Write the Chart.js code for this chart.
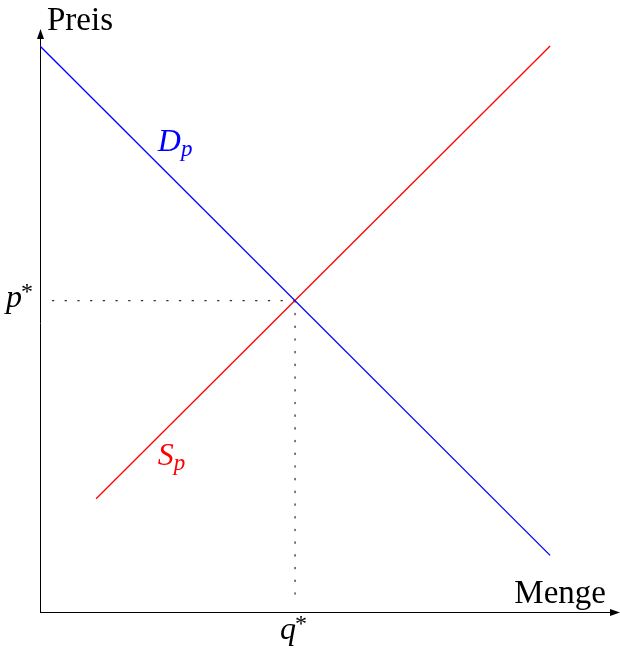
<!DOCTYPE html>
<html>
<head>
<meta charset="utf-8">
<script src="https://cdn.jsdelivr.net/npm/chart.js@4.4.0/dist/chart.umd.min.js"></script>
<style>
  html, body { margin: 0; padding: 0; background: #fff; }
  canvas { display: block; }
</style>
</head>
<body>
<canvas id="market" width="620" height="649"></canvas>
<script>
// Nachfrage- und Angebotskurve (Menge, Preis)
const demandQty = [0, 10]
const demandPrice = [10, 1]
const supplyQty = [1.1, 10]
const supplyPrice = [2, 10]

// Gleichgewicht
const qStar = 5
const pStar = 5.5

// Achsenbereich
const qMax = 11.37
const pMax = 10.3

const serif = '"Liberation Serif", "DejaVu Serif", serif'

const toPoints = (xs, ys) => xs.map((x, i) => ({ x, y: ys[i] }))

// Achsen mit Pfeilspitzen und Beschriftungen
const decorations = {
  id: 'decorations',
  beforeDatasetsDraw(chart) {
    const { ctx, scales: { x, y } } = chart
    const x0 = x.getPixelForValue(0)
    const y0 = y.getPixelForValue(0)
    const xEnd = x.getPixelForValue(qMax)
    const yEnd = y.getPixelForValue(pMax)
    ctx.save()
    ctx.strokeStyle = '#000'
    ctx.fillStyle = '#000'
    ctx.lineWidth = 1
    ctx.beginPath()
    ctx.moveTo(x0 + 0.5, y0)
    ctx.lineTo(x0 + 0.5, yEnd + 6)
    ctx.moveTo(x0, y0 + 0.5)
    ctx.lineTo(xEnd - 6, y0 + 0.5)
    ctx.stroke()
    // Pfeilspitzen
    ctx.beginPath()
    ctx.moveTo(x0 + 0.5, yEnd)
    ctx.lineTo(x0 - 3, yEnd + 10)
    ctx.lineTo(x0 + 4, yEnd + 10)
    ctx.closePath()
    ctx.fill()
    ctx.beginPath()
    ctx.moveTo(xEnd, y0 + 0.5)
    ctx.lineTo(xEnd - 10, y0 - 3)
    ctx.lineTo(xEnd - 10, y0 + 4)
    ctx.closePath()
    ctx.fill()
    ctx.restore()
  },
  afterDatasetsDraw(chart) {
    const { ctx, scales: { x, y } } = chart
    const x0 = x.getPixelForValue(0)
    const y0 = y.getPixelForValue(0)
    const xEnd = x.getPixelForValue(qMax)
    const yEnd = y.getPixelForValue(pMax)
    const qx = x.getPixelForValue(qStar)
    const py = y.getPixelForValue(pStar)
    ctx.save()
    ctx.textBaseline = 'alphabetic'

    ctx.fillStyle = '#000'
    ctx.font = '33px ' + serif
    ctx.textAlign = 'left'
    ctx.fillText('Preis', x0 + 7, yEnd + 1)
    ctx.textAlign = 'right'
    ctx.fillText('Menge', xEnd - 14, y0 - 9)

    // p* und q*
    const math = (base, sup, px, py0, color) => {
      ctx.fillStyle = color
      ctx.textAlign = 'left'
      ctx.font = 'italic 32px ' + serif
      ctx.fillText(base, px, py0)
      const w = ctx.measureText(base).width
      ctx.font = '24px ' + serif
      ctx.fillText(sup, px + w - 1, py0 - 8)
    }
    math('p', '*', x0 - 34, py + 6, '#000')
    math('q', '*', qx - 15, y0 + 27, '#000')

    // Kurvenbezeichnungen mit Index
    const sub = (base, idx, px, py0, color) => {
      ctx.fillStyle = color
      ctx.textAlign = 'left'
      ctx.font = 'italic 32px ' + serif
      ctx.fillText(base, px, py0)
      const w = ctx.measureText(base).width
      ctx.font = 'italic 23px ' + serif
      ctx.fillText(idx, px + w, py0 + 5)
    }
    sub('D', 'p', x.getPixelForValue(2.31), y.getPixelForValue(8.15), '#0000ff')
    sub('S', 'p', x.getPixelForValue(2.31), y.getPixelForValue(2.6), '#ff0000')
    ctx.restore()
  }
}

new Chart(document.getElementById('market'), {
  type: 'scatter',
  data: {
    datasets: [
      {
        label: 'Nachfrage',
        data: toPoints(demandQty, demandPrice),
        showLine: true,
        borderColor: '#0000ff',
        borderWidth: 1.3,
        pointRadius: 0
      },
      {
        label: 'Angebot',
        data: toPoints(supplyQty, supplyPrice),
        showLine: true,
        borderColor: '#ff0000',
        borderWidth: 1.3,
        pointRadius: 0
      },
      {
        label: 'p*',
        data: [{ x: qStar, y: pStar }, { x: 0.2, y: pStar }],
        showLine: true,
        borderColor: '#333',
        borderWidth: 1.3,
        borderDash: [1.3, 11.4],
        borderCapStyle: 'round',
        pointRadius: 0
      },
      {
        label: 'q*',
        data: [{ x: qStar, y: pStar }, { x: qStar, y: 0.12 }],
        showLine: true,
        borderColor: '#333',
        borderWidth: 1.3,
        borderDash: [1.3, 11.4],
        borderCapStyle: 'round',
        pointRadius: 0
      }
    ]
  },
  options: {
    responsive: false,
    animation: false,
    layout: { padding: { left: 40, top: 29, right: 0, bottom: 37 } },
    scales: {
      x: { type: 'linear', min: 0, max: qMax, display: false },
      y: { type: 'linear', min: 0, max: pMax, display: false }
    },
    plugins: {
      legend: { display: false },
      tooltip: { enabled: false }
    }
  },
  plugins: [decorations]
})
</script>
</body>
</html>
